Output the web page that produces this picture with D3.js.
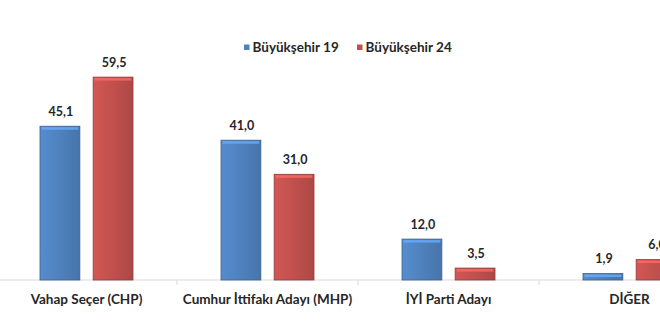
<!DOCTYPE html>
<html>
<head>
<meta charset="utf-8">
<script src="https://cdn.jsdelivr.net/npm/d3@7"></script>
<style>
  body { margin: 0; background: #fff; }
  svg { display: block; font-family: Lato, "Open Sans", sans-serif; }
</style>
</head>
<body>
<div id="chart"></div>
<script>
"use strict";

const categories = ["Vahap Seçer (CHP)", "Cumhur İttifakı Adayı (MHP)", "İYİ Parti Adayı", "DİĞER"];
const seriesNames = ["Büyükşehir 19", "Büyükşehir 24"];
const values19 = [45.1, 41.0, 12.0, 1.9];
const values24 = [59.5, 31.0, 3.5, 6.0];
const colors = ["#4f81bd", "#c0504d"];

const width = 660;
const height = 330;
const baseY = 280;

const svg = d3.select("#chart")
  .append("svg")
  .attr("width", width)
  .attr("height", height);

const defs = svg.append("defs");
colors.forEach((c, i) => {
  const grad = defs.append("linearGradient")
    .attr("id", `grad${i}`)
    .attr("x1", 0).attr("x2", 1).attr("y1", 0).attr("y2", 0);
  grad.append("stop").attr("offset", "0%").attr("stop-color", d3.color(c).brighter(0.25));
  grad.append("stop").attr("offset", "50%").attr("stop-color", c);
  grad.append("stop").attr("offset", "100%").attr("stop-color", d3.color(c).darker(0.3));
});

const x0 = d3.scaleBand()
  .domain(categories)
  .range([-4, 720]);

const x1 = d3.scaleBand()
  .domain(seriesNames)
  .range([0, 93])
  .paddingInner(0.25);

const y = d3.scaleLinear()
  .domain([0, 70])
  .range([baseY, baseY - 70 * 3.41]);

// axis line and category ticks
svg.append("line")
  .attr("x1", 0).attr("x2", width)
  .attr("y1", baseY).attr("y2", baseY)
  .attr("stroke", "#d9d9d9");

categories.slice(1).forEach(c => {
  svg.append("line")
    .attr("x1", x0(c)).attr("x2", x0(c))
    .attr("y1", baseY).attr("y2", baseY + 5)
    .attr("stroke", "#d9d9d9");
});

const rows = categories.map((c, i) => ({
  cat: c,
  vals: [{ s: seriesNames[0], v: values19[i], k: 0 }, { s: seriesNames[1], v: values24[i], k: 1 }]
}));

const groups = svg.selectAll("g.cat")
  .data(rows)
  .join("g")
  .attr("class", "cat")
  .attr("transform", d => `translate(${x0(d.cat) + x0.bandwidth() / 2 - 46.5},0)`);

const bar = groups.selectAll("g.bar")
  .data(d => d.vals)
  .join("g")
  .attr("class", "bar");

bar.append("rect")
  .attr("x", d => x1(d.s))
  .attr("y", d => y(d.v))
  .attr("width", x1.bandwidth())
  .attr("height", d => baseY - y(d.v))
  .attr("fill", d => `url(#grad${d.k})`)
  .attr("stroke", d => d3.color(colors[d.k]).darker(0.8))
  .attr("stroke-width", 0.8);

// top bevel highlight
bar.append("rect")
  .attr("x", d => x1(d.s) + 1.5)
  .attr("y", d => y(d.v) + 1)
  .attr("width", x1.bandwidth() - 3)
  .attr("height", 2.5)
  .attr("fill", d => d3.color(colors[d.k]).brighter(0.8))
  .attr("opacity", 0.8);

bar.append("text")
  .attr("x", d => x1(d.s) + x1.bandwidth() / 2 + 1)
  .attr("y", d => y(d.v) - 10.5)
  .attr("text-anchor", "middle")
  .style("font-size", "12.5px")
  .style("font-weight", "bold")
  .attr("fill", "#262626")
  .text(d => d3.format(".1f")(d.v).replace(".", ","));

svg.selectAll("text.cat-label")
  .data(categories)
  .join("text")
  .attr("class", "cat-label")
  .attr("x", d => x0(d) + x0.bandwidth() / 2)
  .attr("y", 304)
  .attr("text-anchor", "middle")
  .style("font-size", "13.5px")
  .style("font-weight", "bold")
  .attr("fill", "#262626")
  .text(d => d);

// legend
const legendX = [244, 357];
const legend = svg.selectAll("g.legend")
  .data(seriesNames)
  .join("g")
  .attr("class", "legend")
  .attr("transform", (d, i) => `translate(${legendX[i]},47)`);

legend.append("rect")
  .attr("x", 0).attr("y", -2.5)
  .attr("width", 5.5).attr("height", 5.5)
  .attr("fill", (d, i) => colors[i]);

legend.append("text")
  .attr("x", 8.5)
  .attr("y", 4.5)
  .style("font-size", "13.5px")
  .style("font-weight", "bold")
  .attr("fill", "#262626")
  .text(d => d);
</script>
</body>
</html>
